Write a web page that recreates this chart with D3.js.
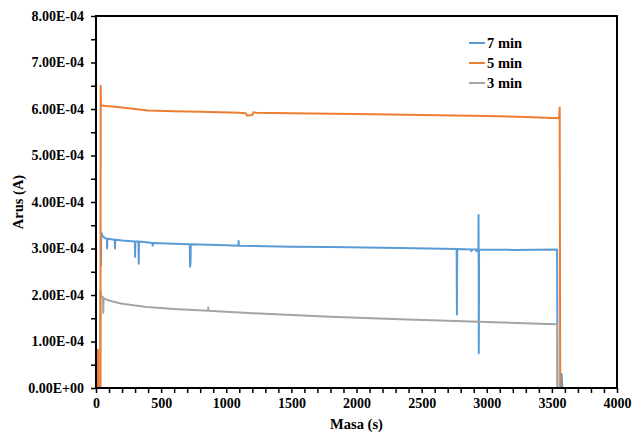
<!DOCTYPE html>
<html>
<head>
<meta charset="utf-8">
<script src="https://cdn.jsdelivr.net/npm/d3@7"></script>
<style>
  body { margin: 0; background: #fff; }
  text { font-family: "Liberation Serif", "Times New Roman", serif; font-weight: bold; fill: #000; }
</style>
</head>
<body>
<svg id="chart" width="632" height="432"></svg>
<script>
// time (s) / current (A)
var seriesNames = ['7 min', '5 min', '3 min'];
var seriesColors = ['#5b9bd5', '#ed7d31', '#a5a5a5'];

var blue7min = [
  [38, 2.62e-4], [40, 3.35e-4], [50, 3.27e-4], [70, 3.22e-4], [84, 3.21e-4], [85, 3.0e-4], [87, 3.21e-4],
  [144, 3.19e-4], [146, 3.0e-4], [148, 3.19e-4], [200, 3.17e-4], [298, 3.15e-4], [300, 2.82e-4], [302, 3.15e-4],
  [326, 3.15e-4], [328, 2.67e-4], [330, 3.15e-4], [400, 3.13e-4], [433, 3.12e-4], [435, 3.06e-4], [437, 3.12e-4],
  [600, 3.10e-4], [720, 3.09e-4], [722, 2.61e-4], [726, 2.72e-4], [728, 3.09e-4], [1000, 3.07e-4],
  [1093, 3.06e-4], [1095, 3.16e-4], [1097, 3.06e-4], [1500, 3.04e-4], [1800, 3.03e-4], [2334, 3.01e-4],
  [2769, 2.99e-4], [2771, 1.58e-4], [2773, 2.99e-4], [2880, 2.98e-4], [2882, 2.94e-4], [2884, 2.98e-4],
  [2920, 2.98e-4], [2922, 2.94e-4], [2924, 2.98e-4], [2936, 2.98e-4], [2937, 3.72e-4], [2939, 0.75e-4],
  [2941, 2.98e-4], [3200, 2.97e-4], [3540, 2.98e-4], [3542, 1.5e-4], [3543, 0], [3570, 0],
  [3575, 0.3e-4], [3580, 0], [3590, 0]
];

var orange5min = [
  [0, 0], [14, 0], [15, 0.82e-4], [17, 0], [34, 0], [36, 6.5e-4], [38, 6.08e-4], [60, 6.07e-4],
  [100, 6.06e-4], [200, 6.03e-4], [400, 5.97e-4], [600, 5.95e-4], [800, 5.94e-4], [1100, 5.92e-4],
  [1150, 5.91e-4], [1160, 5.86e-4], [1200, 5.87e-4], [1210, 5.93e-4], [1230, 5.92e-4], [1500, 5.91e-4],
  [2000, 5.89e-4], [2500, 5.87e-4], [3000, 5.85e-4], [3300, 5.83e-4], [3555, 5.80e-4], [3560, 6.03e-4],
  [3564, 0], [3600, 0]
];

var gray3min = [
  [0, 0], [32, 0], [34, 2.08e-4], [40, 1.98e-4], [54, 1.95e-4], [56, 1.62e-4], [58, 1.93e-4],
  [100, 1.88e-4], [130, 1.86e-4], [200, 1.81e-4], [390, 1.74e-4], [600, 1.70e-4], [860, 1.66e-4],
  [862, 1.73e-4], [864, 1.66e-4], [1200, 1.61e-4], [1800, 1.53e-4], [2334, 1.48e-4], [3000, 1.42e-4],
  [3540, 1.37e-4], [3542, 0], [3580, 0]
];

var xTicks = [0, 500, 1000, 1500, 2000, 2500, 3000, 3500, 4000];
var yTicks = [0, 1e-4, 2e-4, 3e-4, 4e-4, 5e-4, 6e-4, 7e-4, 8e-4];

var svg = d3.select('#chart');
var plotLeft = 96, plotRight = 617, plotTop = 16, plotBottom = 388;

var x = d3.scaleLinear().domain([0, 4000]).range([plotLeft, plotRight]);
var y = d3.scaleLinear().domain([0, 8e-4]).range([plotBottom, plotTop]);

function sciFmt(v) {
  var parts = v.toExponential(2).split('e');
  var e = parts[1];
  return parts[0] + 'E' + e[0] + e.slice(1).padStart(2, '0');
}

// minor ticks
var xMinor = d3.range(0, 4001, 100);
var yMinor = d3.range(0, 17).map(function (i) { return i * 0.5e-4; });

svg.append('g')
    .attr('transform', 'translate(0,' + plotBottom + ')')
    .call(d3.axisBottom(x).tickValues(xMinor).tickSize(5).tickFormat(''))
    .call(function (g) { g.select('.domain').remove(); g.selectAll('line').attr('stroke-width', 1.5); });

svg.append('g')
    .attr('transform', 'translate(' + plotLeft + ',0)')
    .call(d3.axisLeft(y).tickValues(yMinor).tickSize(5).tickFormat(''))
    .call(function (g) { g.select('.domain').remove(); g.selectAll('line').attr('stroke-width', 1.5); });

// major tick labels
svg.append('g')
    .attr('transform', 'translate(0,' + plotBottom + ')')
    .call(d3.axisBottom(x).tickValues(xTicks).tickSize(0).tickPadding(10).tickFormat(d3.format('d')))
    .call(function (g) {
      g.select('.domain').remove();
      g.selectAll('text').attr('font-size', '14px').attr('font-family', null);
    });

svg.append('g')
    .attr('transform', 'translate(' + plotLeft + ',0)')
    .call(d3.axisLeft(y).tickValues(yTicks).tickSize(0).tickPadding(12).tickFormat(sciFmt))
    .call(function (g) {
      g.select('.domain').remove();
      g.selectAll('text').attr('font-size', '14px').attr('font-family', null);
    });

// series
var line = d3.line()
    .x(function (d) { return x(d[0]); })
    .y(function (d) { return y(d[1]); });

var seriesData = [blue7min, orange5min, gray3min];
var plot = svg.append('g');
[0, 2, 1].forEach(function (i) {
  plot.append('path')
      .datum(seriesData[i])
      .attr('d', line)
      .attr('fill', 'none')
      .attr('stroke', seriesColors[i])
      .attr('stroke-width', 2)
      .attr('stroke-linejoin', 'round');
});

// plot border
svg.append('rect')
    .attr('x', plotLeft).attr('y', plotTop)
    .attr('width', plotRight - plotLeft).attr('height', plotBottom - plotTop)
    .attr('fill', 'none').attr('stroke', '#000').attr('stroke-width', 2);

// axis titles
svg.append('text')
    .attr('x', (plotLeft + plotRight) / 2).attr('y', 429)
    .attr('text-anchor', 'middle').attr('font-size', '14.5px')
    .text('Masa (s)');

svg.append('text')
    .attr('transform', 'translate(23,' + (plotTop + plotBottom) / 2 + ') rotate(-90)')
    .attr('text-anchor', 'middle').attr('font-size', '14.5px')
    .text('Arus (A)');

// legend
var legend = svg.append('g');
seriesNames.forEach(function (name, i) {
  var ly = 43 + i * 20;
  legend.append('line')
      .attr('x1', 469).attr('x2', 485).attr('y1', ly).attr('y2', ly)
      .attr('stroke', seriesColors[i]).attr('stroke-width', 2);
  legend.append('text')
      .attr('x', 487).attr('y', ly + 5)
      .attr('font-size', '14.5px')
      .text(name);
});
</script>
</body>
</html>
